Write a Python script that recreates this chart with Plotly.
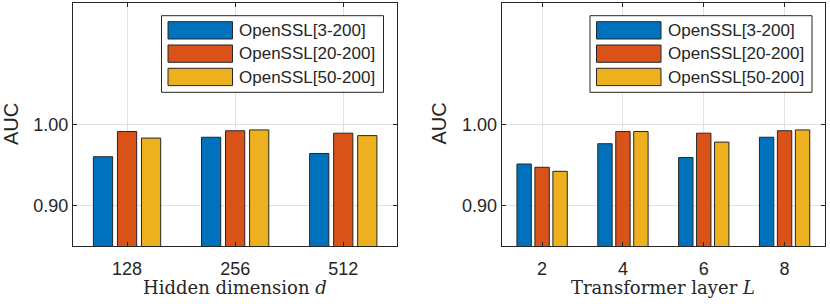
import plotly.graph_objects as go

W, H = 830, 304

series_names = ["OpenSSL[3-200]", "OpenSSL[20-200]", "OpenSSL[50-200]"]
colors = ["#0072BD", "#D95319", "#EDB120"]

hidden_dims = ["128", "256", "512"]
auc_hidden = [
    [0.960, 0.984, 0.964],   # OpenSSL[3-200]
    [0.991, 0.992, 0.989],   # OpenSSL[20-200]
    [0.983, 0.993, 0.986],   # OpenSSL[50-200]
]

layers = ["2", "4", "6", "8"]
auc_layers = [
    [0.951, 0.976, 0.959, 0.984],
    [0.947, 0.991, 0.989, 0.992],
    [0.942, 0.991, 0.978, 0.993],
]

y_ticks = [0.90, 1.00]
y_ticktext = ["0.90", "1.00"]
y_range = [0.85, 1.15]

xlabels = ["Hidden dimension <i>d</i>", "Transformer layer <i>L</i>"]

AX = "#262626"
GRID = "#e2e2e2"
SANS = "Arial, Liberation Sans, Helvetica, sans-serif"
SERIF = "DejaVu Serif, serif"


def px(x):
    return x / W


def py(y):
    return 1 - y / H


fig = go.Figure()

for i, name in enumerate(series_names):
    fig.add_trace(go.Bar(x=hidden_dims, y=auc_hidden[i], name=name,
                         marker=dict(color=colors[i], line=dict(color=AX, width=1)),
                         xaxis="x", yaxis="y", showlegend=False))
    fig.add_trace(go.Bar(x=layers, y=auc_layers[i], name=name,
                         marker=dict(color=colors[i], line=dict(color=AX, width=1)),
                         xaxis="x2", yaxis="y2", showlegend=False))

ydom = [py(246), py(2.5)]
panels = [
    dict(x0=73, x1=397.3),
    dict(x0=501.7, x1=825),
]

axis_common = dict(
    showline=True, linecolor=AX, linewidth=1, mirror="ticks",
    ticks="inside", ticklen=4, tickcolor=AX, tickwidth=1,
    showgrid=True, gridcolor=GRID, gridwidth=1,
    tickfont=dict(family=SANS, size=18, color=AX),
    zeroline=False, fixedrange=True,
)

fig.update_layout(
    width=W, height=H,
    margin=dict(l=0, r=0, t=0, b=0),
    paper_bgcolor="white", plot_bgcolor="white",
    barmode="group", bargap=0.333, bargroupgap=0.2,
    showlegend=False,
    xaxis=dict(domain=[px(panels[0]["x0"]), px(panels[0]["x1"])], anchor="y",
               type="category", ticklabelstandoff=6, **axis_common),
    yaxis=dict(domain=ydom, anchor="x", range=y_range, tickvals=y_ticks,
               ticktext=y_ticktext, **axis_common),
    xaxis2=dict(domain=[px(panels[1]["x0"]), px(panels[1]["x1"])], anchor="y2",
                type="category", ticklabelstandoff=6, **axis_common),
    yaxis2=dict(domain=ydom, anchor="x2", range=y_range, tickvals=y_ticks,
                ticktext=y_ticktext, **axis_common),
)

shapes = []
annotations = []

legend_left = [161.5, 590]
for p, panel in enumerate(panels):
    cx = (panel["x0"] + panel["x1"]) / 2
    # x title
    annotations.append(dict(x=px(cx), y=py(287), xref="paper", yref="paper",
                            text=xlabels[p], showarrow=False,
                            xanchor="center", yanchor="middle",
                            font=dict(family=SERIF, size=18, color=AX)))
    # y title
    ytx = 11 if p == 0 else 438.5
    annotations.append(dict(x=px(ytx), y=py(124), xref="paper", yref="paper",
                            text="AUC", showarrow=False, textangle=-90,
                            xanchor="center", yanchor="middle",
                            font=dict(family=SANS, size=20, color=AX)))
    # legend box
    lx = legend_left[p]
    shapes.append(dict(type="rect", xref="paper", yref="paper",
                       x0=px(lx), x1=px(lx + 222), y0=py(92.3), y1=py(15.7),
                       line=dict(color=AX, width=1), fillcolor="white", layer="above"))
    for i, name in enumerate(series_names):
        top = 21.7 + i * 23.3
        shapes.append(dict(type="rect", xref="paper", yref="paper",
                           x0=px(lx + 6.5), x1=px(lx + 71), y0=py(top + 17.3), y1=py(top),
                           line=dict(color=AX, width=1), fillcolor=colors[i], layer="above"))
        annotations.append(dict(x=px(lx + 75.5), y=py(top + 8.7), xref="paper", yref="paper",
                                text=name, showarrow=False, xanchor="left", yanchor="middle",
                                font=dict(family=SANS, size=17, color=AX)))

fig.update_layout(shapes=shapes, annotations=annotations)

fig.write_html(
    "out.html",
    config={"displayModeBar": False, "staticPlot": True},
    post_script="document.body.style.margin='0';document.body.style.padding='0';",
)
